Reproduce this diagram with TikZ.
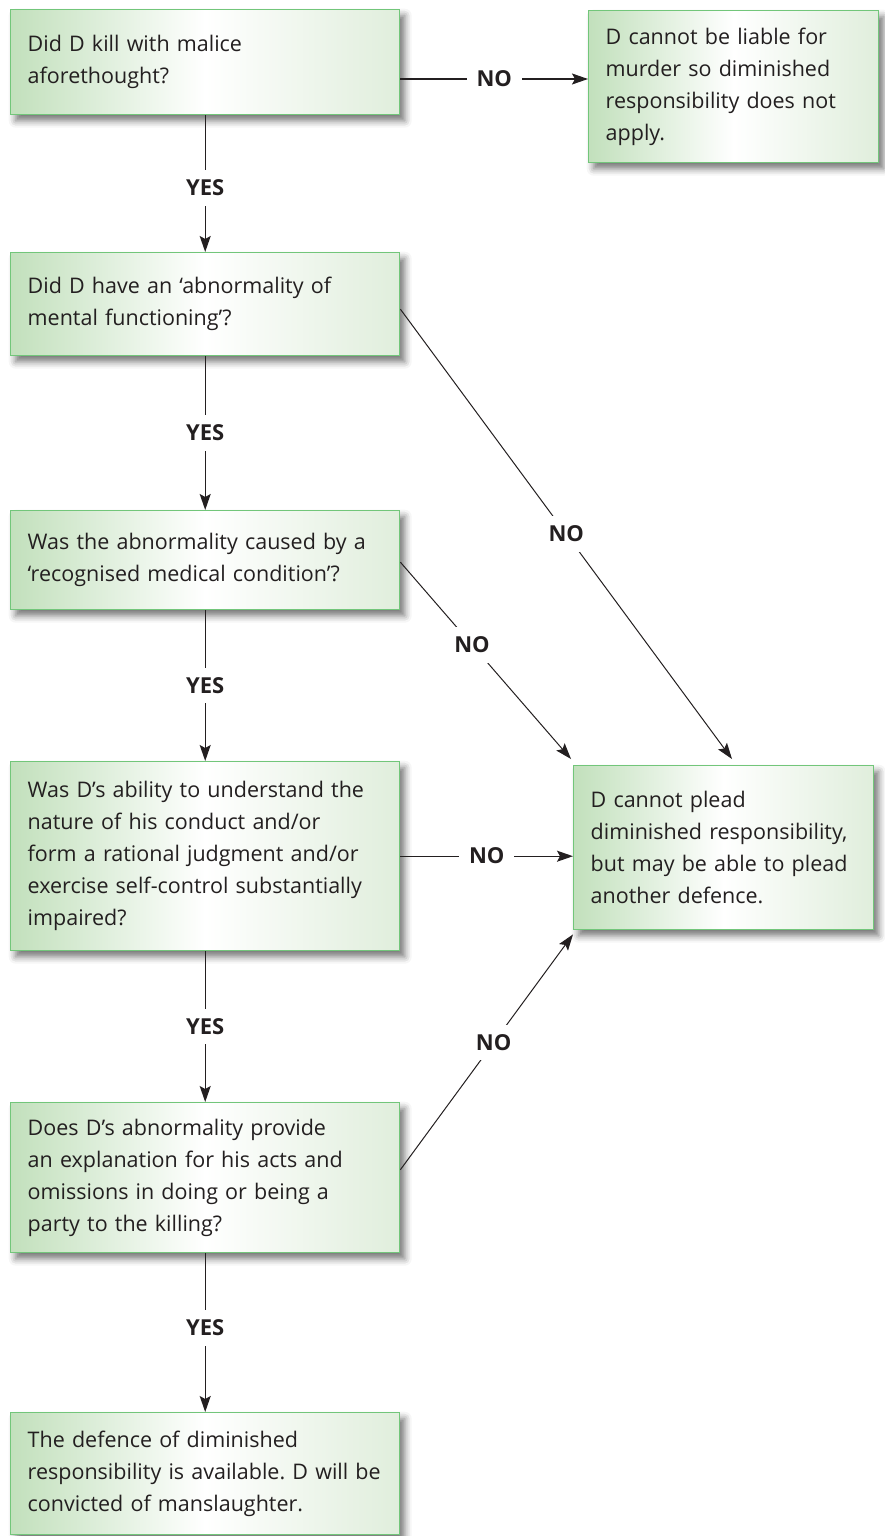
\documentclass[tikz,border=0pt]{standalone}
\usepackage{fontspec}
\setmainfont{Open Sans}
\usetikzlibrary{arrows.meta,shadows.blur,calc}
\definecolor{boxleft}{HTML}{C2E0BC}
\definecolor{boxright}{HTML}{E0EEDC}
\definecolor{boxline}{HTML}{72C67A}
\definecolor{ink}{HTML}{231F20}
\frenchspacing
\begin{document}
\begin{tikzpicture}[x=1pt,y=-1pt,
  qbox/.style={draw=boxline, line width=1.4pt,
    left color=boxleft, right color=boxright, middle color=white,
    anchor=north west, align=left, inner xsep=17pt, inner ysep=0pt,
    text=ink, font=\fontsize{21.5}{32}\selectfont,
    blur shadow={shadow xshift=5pt, shadow yshift=-6pt,
      shadow blur radius=7pt, shadow opacity=55}},
  conn/.style={draw=ink, line width=1.3pt, -{Stealth[length=16pt,width=11pt,inset=3pt]}},
  diag/.style={conn, line width=1pt},
  lbl/.style={fill=white, text=ink, font=\bfseries\fontsize{22}{26}\selectfont,
    inner sep=10pt, text height=15.5pt, text depth=0pt}]
\useasboundingbox (0,0) rectangle (884,1536);

% question and outcome boxes
\node[qbox, minimum width=389pt, text width=355pt, minimum height=105pt] (b1) at (10,9)
  {Did D kill with malice\\aforethought?};
\node[qbox, minimum width=290pt, text width=256pt, minimum height=152pt] (b2) at (588,10)
  {D cannot be liable for\\murder so diminished\\responsibility does not\\apply.};
\node[qbox, minimum width=389pt, text width=355pt, minimum height=103pt] (b3) at (10,252)
  {Did D have an ‘abnormality of\\mental functioning’?};
\node[qbox, minimum width=389pt, text width=355pt, minimum height=99pt] (b4) at (10,510)
  {Was the abnormality caused by a\\‘recognised medical condition’?};
\node[qbox, minimum width=389pt, text width=355pt, minimum height=189pt] (b5) at (10,761)
  {Was D’s ability to understand the\\nature of his conduct and/or\\form a rational judgment and/or\\exercise self-control substantially\\impaired?};
\node[qbox, minimum width=300pt, text width=266pt, minimum height=164pt] (R) at (573,765)
  {D cannot plead\\diminished responsibility,\\but may be able to plead\\another defence.};
\node[qbox, minimum width=389pt, text width=355pt, minimum height=150pt] (b6) at (10,1102)
  {Does D’s abnormality provide\\an explanation for his acts and\\omissions in doing or being a\\party to the killing?};
\node[qbox, minimum width=389pt, text width=355pt, minimum height=122pt] (b7) at (10,1412)
  {The defence of diminished\\responsibility is available. D will be\\convicted of manslaughter.};

% connector end points
\coordinate (r1) at (0,79);
\coordinate (s3) at ($(b3.east)+(0,5)$);
\coordinate (t3) at ($(R.north west)+(159,-6)$);
\coordinate (s4) at ($(b4.east)+(0,2)$);
\coordinate (t4) at ($(R.north west)+(-2,-6)$);
\coordinate (s6) at ($(b6.east)+(0,-8)$);
\coordinate (t6) at ($(R.south west)+(0,4)$);

% YES path
\draw[conn] (b1.south) -- node[lbl, pos=0.53]{YES} (b3.north);
\draw[conn] (b3.south) -- node[lbl]{YES} (b4.north);
\draw[conn] (b4.south) -- node[lbl]{YES} (b5.north);
\draw[conn] (b5.south) -- node[lbl]{YES} (b6.north);
\draw[conn] (b6.south) -- node[lbl, pos=0.47]{YES} (b7.north);

% NO branches
\draw[conn] (b1.east |- r1) -- node[lbl]{NO} (b2.west |- r1);
\draw[conn] (b5.east) -- node[lbl]{NO} (b5.east -| R.west);
\draw[diag] (s3) -- node[lbl]{NO} (t3);
\draw[diag] (s4) -- node[lbl, pos=0.42]{NO} (t4);
\draw[diag] (s6) -- node[lbl, pos=0.54]{NO} (t6);
\end{tikzpicture}
\end{document}
